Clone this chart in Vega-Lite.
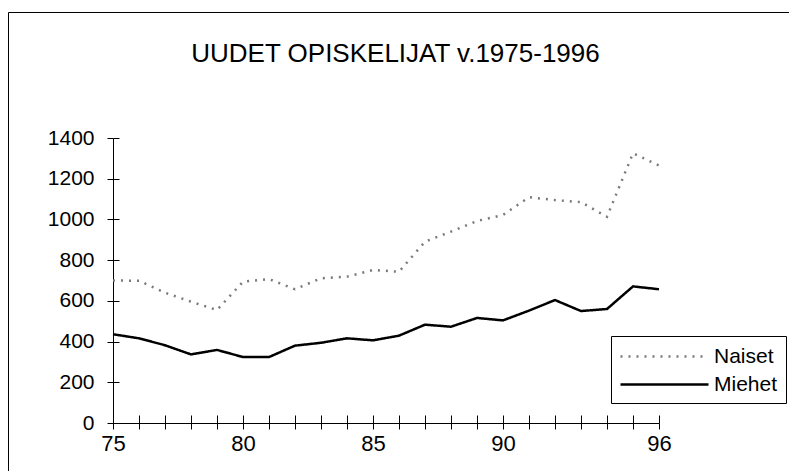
{
  "$schema": "https://vega.github.io/schema/vega-lite/v6.json",
  "width": 781,
  "height": 459,
  "autosize": {"type": "none"},
  "padding": {"left": 8, "top": 12, "right": 0, "bottom": 0},
  "background": "white",
  "config": {
    "view": {"stroke": "black", "strokeWidth": 1},
    "font": "Liberation Sans",
    "legend": {
      "orient": "none",
      "legendX": 603,
      "legendY": 324,
      "strokeColor": "black",
      "fillColor": "white",
      "padding": 8,
      "symbolType": "M-1,0H7",
      "symbolSize": 484,
      "symbolStrokeWidth": 2.5,
      "labelFontSize": 21,
      "labelFont": "Liberation Sans",
      "labelColor": "black",
      "labelOffset": 70,
      "rowPadding": 5
    }
  },
  "title": {
    "text": "UUDET OPISKELIJAT v.1975-1996",
    "fontSize": 26,
    "fontWeight": "normal",
    "font": "Liberation Sans",
    "color": "black",
    "anchor": "middle",
    "frame": "group",
    "offset": -53,
    "baseline": "alphabetic",
    "dx": -3,
    "dy": 23
  },
  "data": {
    "values": [
      {"vuosi": 75, "sarja": "Naiset", "opiskelijat": 700},
      {"vuosi": 76, "sarja": "Naiset", "opiskelijat": 699},
      {"vuosi": 77, "sarja": "Naiset", "opiskelijat": 640},
      {"vuosi": 78, "sarja": "Naiset", "opiskelijat": 596},
      {"vuosi": 79, "sarja": "Naiset", "opiskelijat": 555},
      {"vuosi": 80, "sarja": "Naiset", "opiskelijat": 694},
      {"vuosi": 81, "sarja": "Naiset", "opiskelijat": 707},
      {"vuosi": 82, "sarja": "Naiset", "opiskelijat": 657},
      {"vuosi": 83, "sarja": "Naiset", "opiskelijat": 711},
      {"vuosi": 84, "sarja": "Naiset", "opiskelijat": 719},
      {"vuosi": 85, "sarja": "Naiset", "opiskelijat": 752},
      {"vuosi": 86, "sarja": "Naiset", "opiskelijat": 743},
      {"vuosi": 87, "sarja": "Naiset", "opiskelijat": 891},
      {"vuosi": 88, "sarja": "Naiset", "opiskelijat": 940},
      {"vuosi": 89, "sarja": "Naiset", "opiskelijat": 992},
      {"vuosi": 90, "sarja": "Naiset", "opiskelijat": 1022},
      {"vuosi": 91, "sarja": "Naiset", "opiskelijat": 1109},
      {"vuosi": 92, "sarja": "Naiset", "opiskelijat": 1095},
      {"vuosi": 93, "sarja": "Naiset", "opiskelijat": 1085},
      {"vuosi": 94, "sarja": "Naiset", "opiskelijat": 1013},
      {"vuosi": 95, "sarja": "Naiset", "opiskelijat": 1325},
      {"vuosi": 96, "sarja": "Naiset", "opiskelijat": 1265},
      {"vuosi": 75, "sarja": "Miehet", "opiskelijat": 436},
      {"vuosi": 76, "sarja": "Miehet", "opiskelijat": 416},
      {"vuosi": 77, "sarja": "Miehet", "opiskelijat": 382},
      {"vuosi": 78, "sarja": "Miehet", "opiskelijat": 337},
      {"vuosi": 79, "sarja": "Miehet", "opiskelijat": 359},
      {"vuosi": 80, "sarja": "Miehet", "opiskelijat": 324},
      {"vuosi": 81, "sarja": "Miehet", "opiskelijat": 324},
      {"vuosi": 82, "sarja": "Miehet", "opiskelijat": 380},
      {"vuosi": 83, "sarja": "Miehet", "opiskelijat": 394},
      {"vuosi": 84, "sarja": "Miehet", "opiskelijat": 416},
      {"vuosi": 85, "sarja": "Miehet", "opiskelijat": 406},
      {"vuosi": 86, "sarja": "Miehet", "opiskelijat": 429},
      {"vuosi": 87, "sarja": "Miehet", "opiskelijat": 483},
      {"vuosi": 88, "sarja": "Miehet", "opiskelijat": 473},
      {"vuosi": 89, "sarja": "Miehet", "opiskelijat": 516},
      {"vuosi": 90, "sarja": "Miehet", "opiskelijat": 504},
      {"vuosi": 91, "sarja": "Miehet", "opiskelijat": 552},
      {"vuosi": 92, "sarja": "Miehet", "opiskelijat": 604},
      {"vuosi": 93, "sarja": "Miehet", "opiskelijat": 550},
      {"vuosi": 94, "sarja": "Miehet", "opiskelijat": 560},
      {"vuosi": 95, "sarja": "Miehet", "opiskelijat": 671},
      {"vuosi": 96, "sarja": "Miehet", "opiskelijat": 657}
    ]
  },
  "layer": [
    {
      "mark": {"type": "line", "strokeWidth": 2.5, "strokeCap": "butt"},
      "encoding": {
        "x": {
          "field": "vuosi",
          "type": "quantitative",
          "scale": {"domain": [75, 96], "range": [105, 651], "nice": false, "zero": false},
          "axis": {
            "orient": "bottom",
            "offset": -48,
            "title": null,
            "grid": false,
            "values": [75, 76, 77, 78, 79, 80, 81, 82, 83, 84, 85, 86, 87, 88, 89, 90, 91, 92, 93, 94, 95, 96],
            "labelExpr": "indexof([75, 80, 85, 90, 96], datum.value) >= 0 ? datum.label : ''",
            "labelOverlap": false,
            "labelFlush": false,
            "labelBound": false,
            "tickSize": 6,
            "labelPadding": 4,
            "labelFontSize": 22,
            "labelFont": "Liberation Sans",
            "labelColor": "black",
            "domainColor": "black",
            "tickColor": "black",
            "domainWidth": 1,
            "tickWidth": 1
          }
        },
        "y": {
          "field": "opiskelijat",
          "type": "quantitative",
          "scale": {"domain": [0, 1400], "range": [411, 126], "nice": false},
          "axis": {
            "orient": "left",
            "offset": -105,
            "title": null,
            "grid": false,
            "format": "d",
            "values": [0, 200, 400, 600, 800, 1000, 1200, 1400],
            "tickSize": 6,
            "labelPadding": 13,
            "labelFontSize": 21,
            "labelFont": "Liberation Sans",
            "labelColor": "black",
            "domainColor": "black",
            "tickColor": "black",
            "domainWidth": 1,
            "tickWidth": 1
          }
        },
        "color": {
          "field": "sarja",
          "type": "nominal",
          "scale": {"domain": ["Naiset", "Miehet"], "range": ["#7a7a7a", "#000000"]},
          "legend": {"title": null}
        },
        "strokeDash": {
          "field": "sarja",
          "type": "nominal",
          "scale": {"domain": ["Naiset", "Miehet"], "range": [[2, 6], [1, 0]]},
          "legend": {"title": null}
        }
      }
    },
    {
      "mark": {"type": "line", "opacity": 0},
      "encoding": {
        "x": {
          "field": "vuosi",
          "type": "quantitative",
          "axis": {
            "orient": "bottom",
            "offset": -48,
            "title": null,
            "grid": false,
            "labels": false,
            "domain": false,
            "values": [75, 76, 77, 78, 79, 80, 81, 82, 83, 84, 85, 86, 87, 88, 89, 90, 91, 92, 93, 94, 95, 96],
            "tickSize": -8,
            "tickColor": "black",
            "tickWidth": 1
          }
        },
        "y": {
          "field": "opiskelijat",
          "type": "quantitative",
          "axis": {
            "orient": "left",
            "offset": -105,
            "title": null,
            "grid": false,
            "labels": false,
            "domain": false,
            "values": [0, 200, 400, 600, 800, 1000, 1200, 1400],
            "tickSize": -6,
            "tickColor": "black",
            "tickWidth": 1
          }
        },
        "detail": {"field": "sarja", "type": "nominal"}
      }
    }
  ],
  "resolve": {"axis": {"x": "independent", "y": "independent"}}
}
